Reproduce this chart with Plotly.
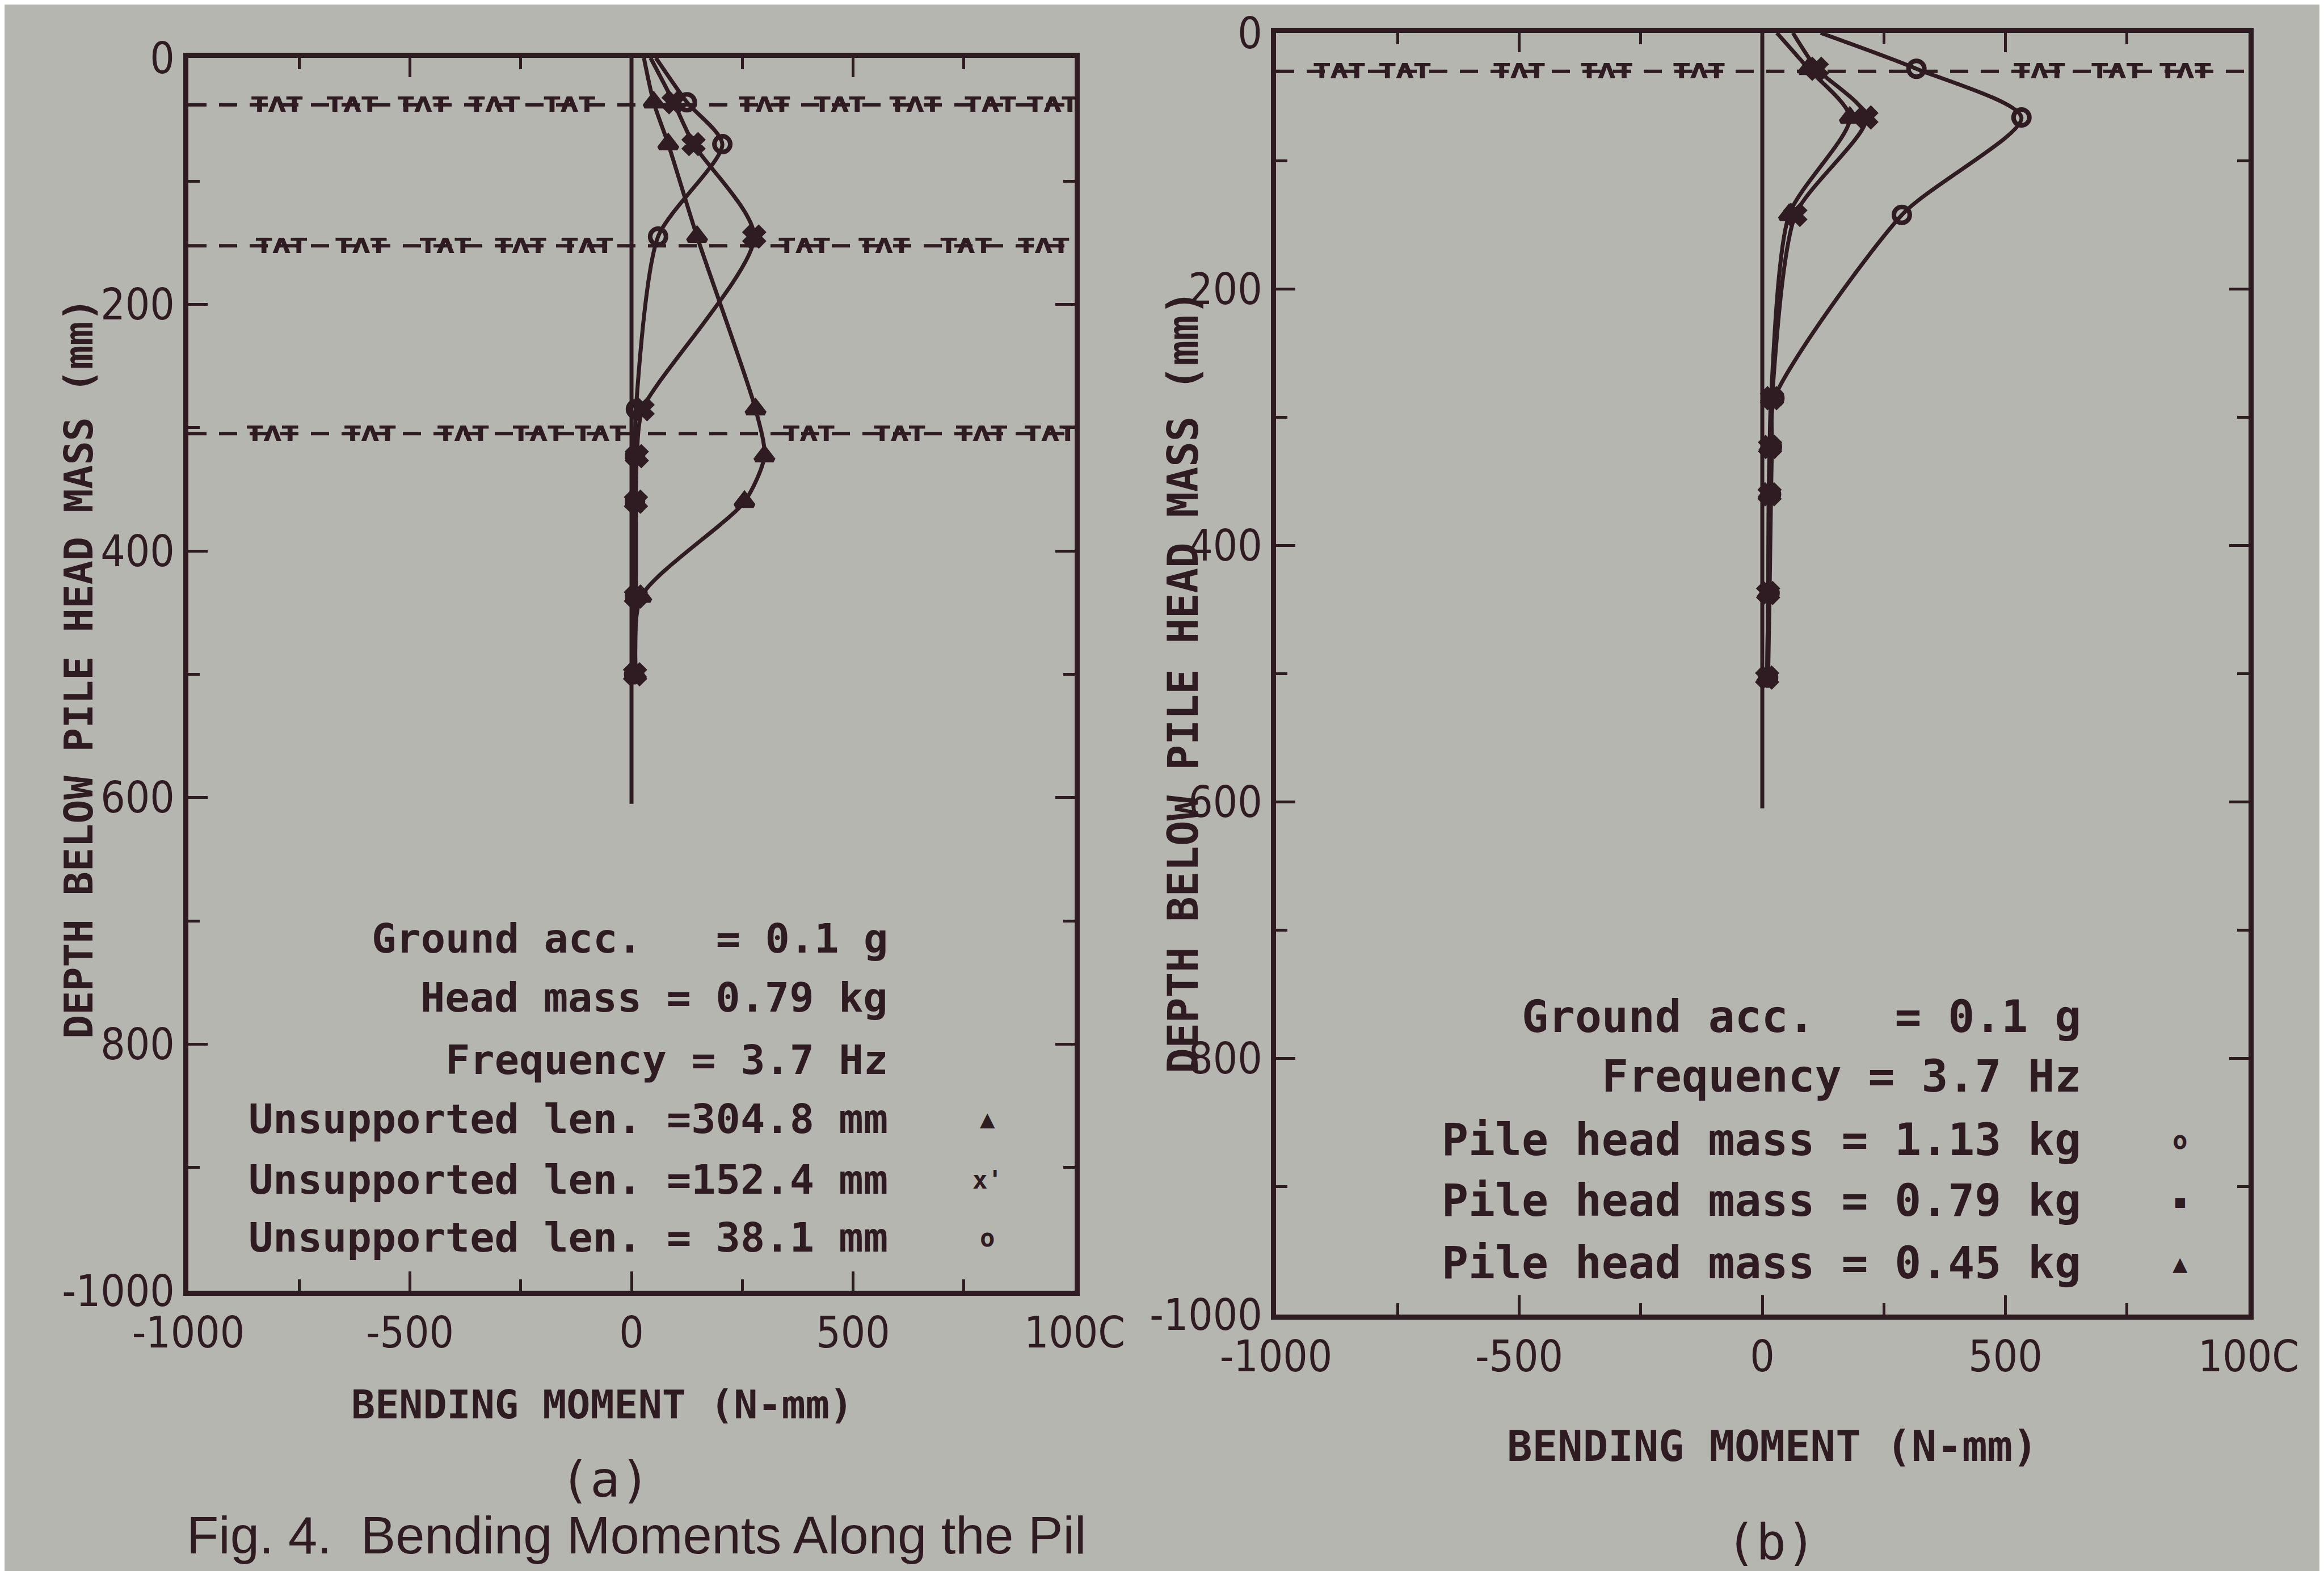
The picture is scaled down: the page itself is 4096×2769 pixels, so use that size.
import plotly.graph_objects as go

# ---------------- data ----------------
# panel (a): bending moment (N-mm) vs depth below pile head mass (mm)
depth_a = [0, 36, 70, 145, 285, 323, 360, 437, 500]
tri_a = [28, 50, 83, 148, 280, 300, 255, 22, 10]      # unsupported len 304.8 mm
x_a = [43, 95, 140, 277, 25, 12, 10, 10, 8]           # unsupported len 152.4 mm
circ_a = [55, 125, 205, 60, 10, 8, 8, 8, 6]           # unsupported len 38.1 mm

# panel (b)
depth_b = [0, 28, 66, 142, 285, 323, 360, 437, 503]
circ_b = [120, 317, 533, 287, 25, 20, 18, 15, 12]     # pile head mass 1.13 kg
x_b = [63, 112, 214, 68, 20, 16, 15, 12, 10]          # 0.79 kg
tri_b = [30, 95, 180, 55, 18, 15, 13, 12, 10]         # 0.45 kg

pile_depth = [0, 605]
pile_moment = [0, 0]

ground_a = [38.1, 152.4, 304.8]
ground_b = [30]
soil_a1 = [-800, -630, -470, -310, -140, 300, 470, 640, 810, 950]
soil_a2 = [-790, -610, -420, -250, -100, 390, 570, 755, 930]
soil_a3 = [-810, -590, -380, -210, -70, 400, 605, 790, 945]
soil_b = [-870, -735, -500, -320, -130, 570, 730, 870]

x_tickvals = [-1000, -500, 0, 500, 1000]
x_ticktext = ["-1000", "-500", "0", "500", "100C"]
y_tickvals = [0, 200, 400, 600, 800, 1000]
y_ticktext = ["0", "200", "400", "600", "800", "-1000"]

legend_a = ["Ground acc.   = 0.1 g", "Head mass = 0.79 kg", "Frequency = 3.7 Hz",
            "Unsupported len. =304.8 mm", "Unsupported len. =152.4 mm",
            "Unsupported len. = 38.1 mm"]
legend_a_sym = ["", "", "", "\u25b2", "x'", "o"]
legend_b = ["Ground acc.   = 0.1 g", "Frequency = 3.7 Hz",
            "Pile head mass = 1.13 kg", "Pile head mass = 0.79 kg",
            "Pile head mass = 0.45 kg"]
legend_b_sym = ["", "", "o", "\u25aa", "\u25b2"]

# ---------------- style ----------------
PAPER = "#b6b6b1"
INK = "#2e1c22"
MONO = "DejaVu Sans Mono, Liberation Mono, monospace"
TICKFONT = "DejaVu Sans Condensed, Liberation Sans Narrow, DejaVu Sans"

fig = go.Figure()


def add_panel(xa, ya, depth, series, grounds, soils):
    for d, sx in zip(grounds, soils):
        fig.add_trace(go.Scatter(x=[-1000, 1000], y=[d, d], mode="lines",
                                 line=dict(color=INK, width=6, dash="32px,22px"),
                                 xaxis=xa, yaxis=ya, showlegend=False))
        fig.add_trace(go.Scatter(x=sx, y=[d] * len(sx), mode="text",
                                 text=["<b>\u1d1b\u1d27\u1d1b</b>"] * len(sx),
                                 textposition="middle center",
                                 textfont=dict(family="DejaVu Sans", size=50, color=INK),
                                 xaxis=xa, yaxis=ya, showlegend=False))
    fig.add_trace(go.Scatter(x=pile_moment, y=pile_depth, mode="lines",
                             line=dict(color=INK, width=7),
                             xaxis=xa, yaxis=ya, showlegend=False))
    for vals, sym in series:
        sizes = [0] + [28] * (len(vals) - 1)   # no marker at the pile head
        fig.add_trace(go.Scatter(
            x=vals, y=depth, mode="lines+markers",
            line=dict(color=INK, width=7, shape="spline", smoothing=0.7),
            marker=dict(symbol=sym, size=sizes, color=INK, opacity=1,
                        line=dict(color=INK, width=8)),
            xaxis=xa, yaxis=ya, showlegend=False))


add_panel("x", "y", depth_a,
          [(tri_a, "triangle-up"), (x_a, "x"), (circ_a, "circle-open")],
          ground_a, [soil_a1, soil_a2, soil_a3])
add_panel("x2", "y2", depth_b,
          [(circ_b, "circle-open"), (x_b, "x"), (tri_b, "triangle-up")],
          ground_b, [soil_b])

W, H = 4096, 2769


def xax(domain, anchor):
    return dict(domain=domain, range=[-1000, 1000], showgrid=False, zeroline=False,
                anchor=anchor, automargin=False, ticklabeloverflow="allow",
                showline=True, linecolor=INK, linewidth=9, mirror="ticks",
                ticks="inside", ticklen=34, tickwidth=5, tickcolor=INK,
                tickvals=x_tickvals, ticktext=x_ticktext,
                tickfont=dict(family=TICKFONT, size=76, color=INK),
                minor=dict(ticks="inside", ticklen=20, tickwidth=5, tickcolor=INK,
                           tickvals=[-750, -250, 250, 750]))


def yax(domain, anchor):
    return dict(domain=domain, range=[1000, 0], showgrid=False, zeroline=False,
                anchor=anchor, automargin=False, ticklabeloverflow="allow",
                showline=True, linecolor=INK, linewidth=9, mirror="ticks",
                ticks="inside", ticklen=34, tickwidth=5, tickcolor=INK,
                tickvals=y_tickvals, ticktext=y_ticktext,
                tickfont=dict(family=TICKFONT, size=76, color=INK),
                minor=dict(ticks="inside", ticklen=20, tickwidth=5, tickcolor=INK,
                           tickvals=[100, 300, 500, 700, 900]))


xa_dom = [324 / W, 1886 / W]
ya_dom = [1 - 2267 / H, 1 - 94 / H]
xb_dom = [2241 / W, 3955 / W]
yb_dom = [1 - 2309 / H, 1 - 50 / H]

annotations = []


def txt(x, y, s, size, anchor="center", angle=0, family=MONO):
    annotations.append(dict(x=x, y=y, xref="paper", yref="paper", text=s,
                            showarrow=False, xanchor=anchor, yanchor="middle",
                            textangle=angle,
                            font=dict(family=family, size=size, color=INK)))


# panel (a) legend
ya_rows = [1646, 1750, 1860, 1964, 2071, 2173]
for s, sym, yy in zip(legend_a, legend_a_sym, ya_rows):
    txt(1559 / W, 1 - yy / H, "<b>" + s + "</b>", 72, anchor="right")
    if sym:
        txt(1732 / W, 1 - yy / H, "<b>" + sym + "</b>", 44)
# panel (b) legend
yb_rows = [1784, 1889, 2001, 2108, 2218]
for s, sym, yy in zip(legend_b, legend_b_sym, yb_rows):
    txt(3662 / W, 1 - yy / H, "<b>" + s + "</b>", 78, anchor="right")
    if sym:
        txt(3834 / W, 1 - yy / H, "<b>" + sym + "</b>", 44)

# axis titles
txt(1053 / W, 1 - 2468 / H, "<b>BENDING MOMENT (N-mm)</b>", 70)
txt(3116 / W, 1 - 2541 / H, "<b>BENDING MOMENT (N-mm)</b>", 74)
txt(131 / W, 1 - 1170 / H, "<b>DEPTH BELOW PILE HEAD MASS (mm)</b>", 70, angle=-90)
txt(2077 / W, 1 - 1194 / H, "<b>DEPTH BELOW PILE HEAD MASS (mm)</b>", 74, angle=-90)

# captions
txt(1058 / W, 1 - 2599 / H, "(a)", 88)
txt(3113 / W, 1 - 2709 / H, "(b)", 88)
annotations.append(dict(x=319 / W, y=1 - 2698 / H, xref="paper", yref="paper",
                        text="Fig. 4.  Bending Moments Along the Pil",
                        showarrow=False, xanchor="left", yanchor="middle",
                        font=dict(family="Liberation Sans, Arial", size=92, color=INK)))

fig.update_layout(
    width=W, height=H, margin=dict(l=0, r=0, t=0, b=0, autoexpand=False),
    paper_bgcolor=PAPER, plot_bgcolor=PAPER, showlegend=False,
    xaxis=xax(xa_dom, "y"), yaxis=yax(ya_dom, "x"),
    xaxis2=xax(xb_dom, "y2"), yaxis2=yax(yb_dom, "x2"),
    annotations=annotations,
)

fig.write_html("out.html")
